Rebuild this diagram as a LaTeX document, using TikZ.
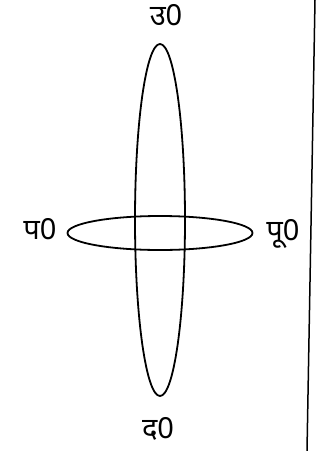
\documentclass[tikz,border=0pt]{standalone}
\usepackage{fontspec}
\newfontfamily\devfont[Script=Devanagari]{Noto Sans}
\usetikzlibrary{shapes.geometric,positioning}
\tikzset{
  orbit/.style={draw,ellipse,line width=1.8pt,inner sep=0pt},
  dirlabel/.style={font=\devfont\fontsize{29}{29}\selectfont,inner sep=0pt},
}

\begin{document}
\begin{tikzpicture}[x=1pt,y=-1pt]
  \useasboundingbox (0,0) rectangle (325,451);
  % two crossing ellipses
  \node[orbit,minimum width=50pt,minimum height=352pt] (ns) at (160,220) {};
  \node[orbit,minimum width=185pt,minimum height=34pt] (ew) at (160,233) {};
  % direction labels
  \node[dirlabel] (north) at (166,15) {उ0};
  \node[dirlabel] (west) at (40,229) {प0};
  \node[dirlabel] (east) at (283,234) {पू0};
  \node[dirlabel] (south) at (158,429) {द0};
  % margin rule
  \coordinate (ruletop) at (315,0);
  \coordinate (rulebot) at (307,451);
  \draw[line width=1.5pt] (ruletop) -- (rulebot);
\end{tikzpicture}
\end{document}
